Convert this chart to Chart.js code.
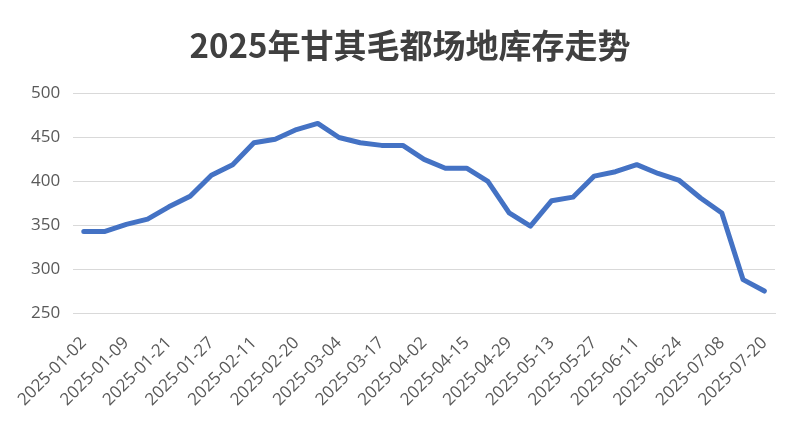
<!DOCTYPE html>
<html>
<head>
<meta charset="utf-8">
<script src="https://cdn.jsdelivr.net/npm/chart.js@4/dist/chart.umd.min.js"></script>
<style>
  html, body { margin: 0; padding: 0; background: #fff; }
  #wrap { width: 802px; height: 434px; }
</style>
</head>
<body>
<div id="wrap"><canvas id="grafico"></canvas></div>
<script>
// Datas (só as de índice par aparecem no eixo)
const datas = [
    '2025-01-02', '2025-01-06', '2025-01-09', '2025-01-15', '2025-01-21', '2025-01-24',
    '2025-01-27', '2025-02-05', '2025-02-11', '2025-02-16', '2025-02-20', '2025-02-25',
    '2025-03-04', '2025-03-10', '2025-03-17', '2025-03-25', '2025-04-02', '2025-04-08',
    '2025-04-15', '2025-04-22', '2025-04-29', '2025-05-07', '2025-05-13', '2025-05-20',
    '2025-05-27', '2025-06-04', '2025-06-11', '2025-06-17', '2025-06-24', '2025-07-01',
    '2025-07-08', '2025-07-14', '2025-07-20'
];
// Estoque (aprox.)
const estoque = [
    343, 343, 351, 357, 371, 383, 407, 419, 444, 448, 459, 466,
    450, 444, 441, 441, 425, 415, 415, 400, 364, 349, 378, 382,
    406, 411, 419, 409, 401, 381, 364, 288, 275
];
const eixoY = { min: 250, max: 500, passo: 50 };

const ctx = document.getElementById('grafico').getContext('2d');
const chartInstance = new Chart(ctx, {
    type: 'line',
    data: {
        labels: datas,
        datasets: [{
            label: '库存',
            data: estoque,
            borderColor: '#4472C4',
            borderWidth: 5,
            pointRadius: 0,
            tension: 0,
            borderJoinStyle: 'round',
            borderCapStyle: 'round'
        }]
    },
    options: {
        responsive: true,
        maintainAspectRatio: false,
        animation: false,
        // padding à esquerda só para centralizar o título como no original
        layout: { padding: { left: 18, right: 0, top: 0, bottom: 0 } },
        plugins: {
            legend: { display: false },
            tooltip: { enabled: false },
            title: {
                display: true,
                text: '2025年甘其毛都场地库存走势',
                color: '#404040',
                font: { family: '"Noto Sans CJK SC", sans-serif', size: 33, weight: 'bold' },
                padding: { top: 26, bottom: 28 }
            }
        },
        scales: {
            x: {
                grid: { display: false, drawTicks: false },
                border: { display: true, color: '#d9d9d9', width: 1 },
                offset: true,
                afterFit: (scale) => { scale.height = 121; },
                ticks: {
                    autoSkip: false,
                    maxRotation: 45,
                    minRotation: 45,
                    padding: 20,
                    color: '#595959',
                    font: { family: '"Open Sans", sans-serif', size: 17 },
                    callback: function (val, i) {
                        return i % 2 === 0 ? this.getLabelForValue(val) : '';
                    }
                }
            },
            y: {
                min: eixoY.min,
                max: eixoY.max,
                afterFit: (scale) => { scale.width = 52; },
                grid: { color: '#d9d9d9', drawTicks: false, lineWidth: 1 },
                border: { display: false },
                ticks: {
                    stepSize: eixoY.passo,
                    padding: 13,
                    color: '#595959',
                    font: { family: '"Open Sans", sans-serif', size: 17 }
                }
            },
            // eixo vazio à direita, só para reservar a margem
            margem: {
                position: 'right',
                display: true,
                grid: { display: false, drawTicks: false },
                border: { display: false },
                ticks: { display: false },
                afterFit: (scale) => { scale.width = 27; }
            }
        }
    }
});
</script>
</body>
</html>
